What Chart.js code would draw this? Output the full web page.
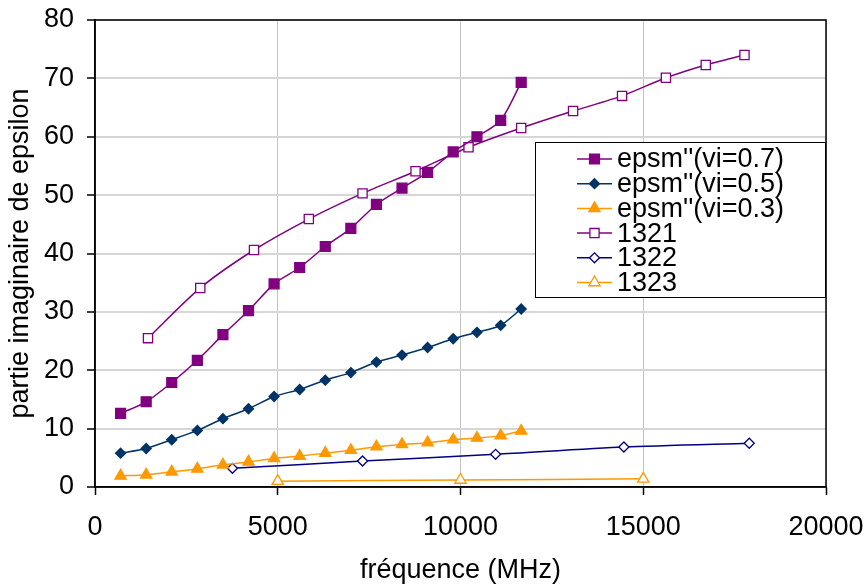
<!DOCTYPE html>
<html>
<head>
<meta charset="utf-8">
<script src="https://cdn.jsdelivr.net/npm/chart.js@4/dist/chart.umd.min.js"></script>
<style>
  html, body { margin: 0; padding: 0; background: #fff; }
  #wrap { width: 867px; height: 584px; position: relative; }
</style>
</head>
<body>
<div id="wrap"><canvas id="c"></canvas></div>
<script>
// frequencies (MHz) of the model curves
const freqModel = [700, 1400, 2100, 2800, 3500, 4200, 4900, 5600, 6300, 7000, 7700, 8400, 9100, 9800, 10450, 11100, 11660];
const epsm07 = [12.6, 14.6, 17.9, 21.7, 26.1, 30.2, 34.8, 37.6, 41.2, 44.3, 48.4, 51.2, 53.9, 57.4, 60.0, 62.8, 69.3];
const epsm05 = [5.8, 6.6, 8.1, 9.7, 11.7, 13.4, 15.5, 16.7, 18.3, 19.6, 21.4, 22.6, 23.9, 25.4, 26.5, 27.7, 30.5];
const epsm03 = [1.9, 2.1, 2.6, 3.1, 3.8, 4.3, 4.9, 5.3, 5.8, 6.3, 6.9, 7.3, 7.6, 8.1, 8.4, 8.8, 9.6];

// measured samples
const freq1321 = [1450, 2880, 4350, 5850, 7320, 8770, 10220, 11660, 13080, 14420, 15620, 16710, 17770];
const val1321 = [25.5, 34.1, 40.6, 45.9, 50.3, 54.1, 58.2, 61.5, 64.4, 67.0, 70.1, 72.3, 74.0];
const freq1322 = [3760, 7320, 10960, 14470, 17900];
const val1322 = [3.2, 4.45, 5.6, 6.85, 7.5];
const freq1323 = [5000, 10000, 15000];
const val1323 = [1.0, 1.2, 1.4];

const xTicks = [0, 5000, 10000, 15000, 20000];
const yTicks = [0, 10, 20, 30, 40, 50, 60, 70, 80];

const FONT = '"Liberation Sans", Arial, sans-serif';
const FS = 27;
const pts = (xs, ys) => xs.map((x, i) => ({ x, y: ys[i] }));

function series(label, xs, ys, color, style, radius, filled) {
  return {
    label, data: pts(xs, ys),
    borderColor: color, borderWidth: 1.5,
    pointStyle: style, pointRadius: radius, pointHoverRadius: radius,
    pointBackgroundColor: filled ? color : '#fff', pointBorderColor: color, pointBorderWidth: 1.3,
    tension: 0.25, fill: false,
  };
}

const datasets = [
  series("epsm''(vi=0.7)", freqModel, epsm07, '#800080', 'rect', 7, true),
  series("epsm''(vi=0.5)", freqModel, epsm05, '#003366', 'rectRot', 5, true),
  series("epsm''(vi=0.3)", freqModel, epsm03, '#ff9900', 'triangle', 6.5, true),
  series('1321', freq1321, val1321, '#800080', 'rect', 6.5, false),
  series('1322', freq1322, val1322, '#000080', 'rectRot', 5, false),
  series('1323', freq1323, val1323, '#ff9900', 'triangle', 6.5, false),
];

// plot frame + in-plot legend box
const framePlugin = {
  id: 'frame',
  afterDatasetsDraw(chart) {
    const { ctx, chartArea: a } = chart;
    ctx.save();
    ctx.strokeStyle = '#000'; ctx.lineWidth = 1.5;
    ctx.strokeRect(a.left, a.top, a.right - a.left, a.bottom - a.top);

    const bx = a.left + 440, by = a.top + 122, bw = a.right - bx, bh = 155;
    ctx.fillStyle = '#fff'; ctx.fillRect(bx, by, bw, bh);
    ctx.strokeStyle = '#000'; ctx.lineWidth = 1;
    ctx.strokeRect(bx + 0.5, by + 0.5, bw - 1, bh);
    ctx.font = `${FS}px ${FONT}`; ctx.textBaseline = 'middle'; ctx.textAlign = 'left';
    chart.data.datasets.forEach((d, i) => {
      const y = by + 17 + i * 24.7;
      ctx.strokeStyle = d.borderColor; ctx.lineWidth = 1.5;
      ctx.beginPath(); ctx.moveTo(bx + 42, y); ctx.lineTo(bx + 77, y); ctx.stroke();
      ctx.fillStyle = d.pointBackgroundColor; ctx.strokeStyle = d.pointBorderColor; ctx.lineWidth = d.pointBorderWidth;
      Chart.helpers.drawPoint(ctx, { pointStyle: d.pointStyle, radius: d.pointRadius, rotation: 0, borderWidth: d.pointBorderWidth }, bx + 59.5, y);
      ctx.fillStyle = '#000';
      ctx.fillText(d.label, bx + 82, y + 1);
    });
    ctx.restore();
  }
};

new Chart(document.getElementById('c'), {
  type: 'line',
  data: { datasets },
  options: {
    responsive: true, maintainAspectRatio: false, animation: false,
    layout: { padding: { top: 20, right: 41, bottom: 0, left: 0 } },
    plugins: { legend: { display: false }, tooltip: { enabled: false } },
    scales: {
      x: {
        type: 'linear', min: 0, max: 20000,
        afterBuildTicks: s => { s.ticks = xTicks.map(v => ({ value: v })); },
        afterFit: s => { s.height = 97; s.paddingLeft = 0; s.paddingRight = 0; },
        ticks: { color: '#000', font: { family: FONT, size: FS }, padding: 16, maxRotation: 0, callback: v => String(v) },
        grid: { color: '#c4c4c4', lineWidth: 1, tickLength: 8, tickColor: '#000', tickWidth: 1.5 },
        border: { color: '#000', width: 1.5 },
        title: { display: true, text: 'fréquence (MHz)', color: '#000', font: { family: FONT, size: FS }, padding: { top: 4, bottom: -3 } },
      },
      y: {
        min: 0, max: 80,
        afterBuildTicks: s => { s.ticks = yTicks.map(v => ({ value: v })); },
        afterFit: s => { s.width = 95; s.paddingTop = 0; s.paddingBottom = 0; },
        ticks: { color: '#000', font: { family: FONT, size: FS }, padding: 13, callback: v => String(v) },
        grid: { color: '#d6d6d6', lineWidth: 2, tickLength: 8, tickColor: '#000', tickWidth: 1.5 },
        border: { color: '#000', width: 1.5 },
        title: { display: true, text: 'partie imaginaire de epsilon', color: '#000', font: { family: FONT, size: FS }, padding: { top: 4, bottom: 4 } },
      },
    },
  },
  plugins: [framePlugin],
});
</script>
</body>
</html>
